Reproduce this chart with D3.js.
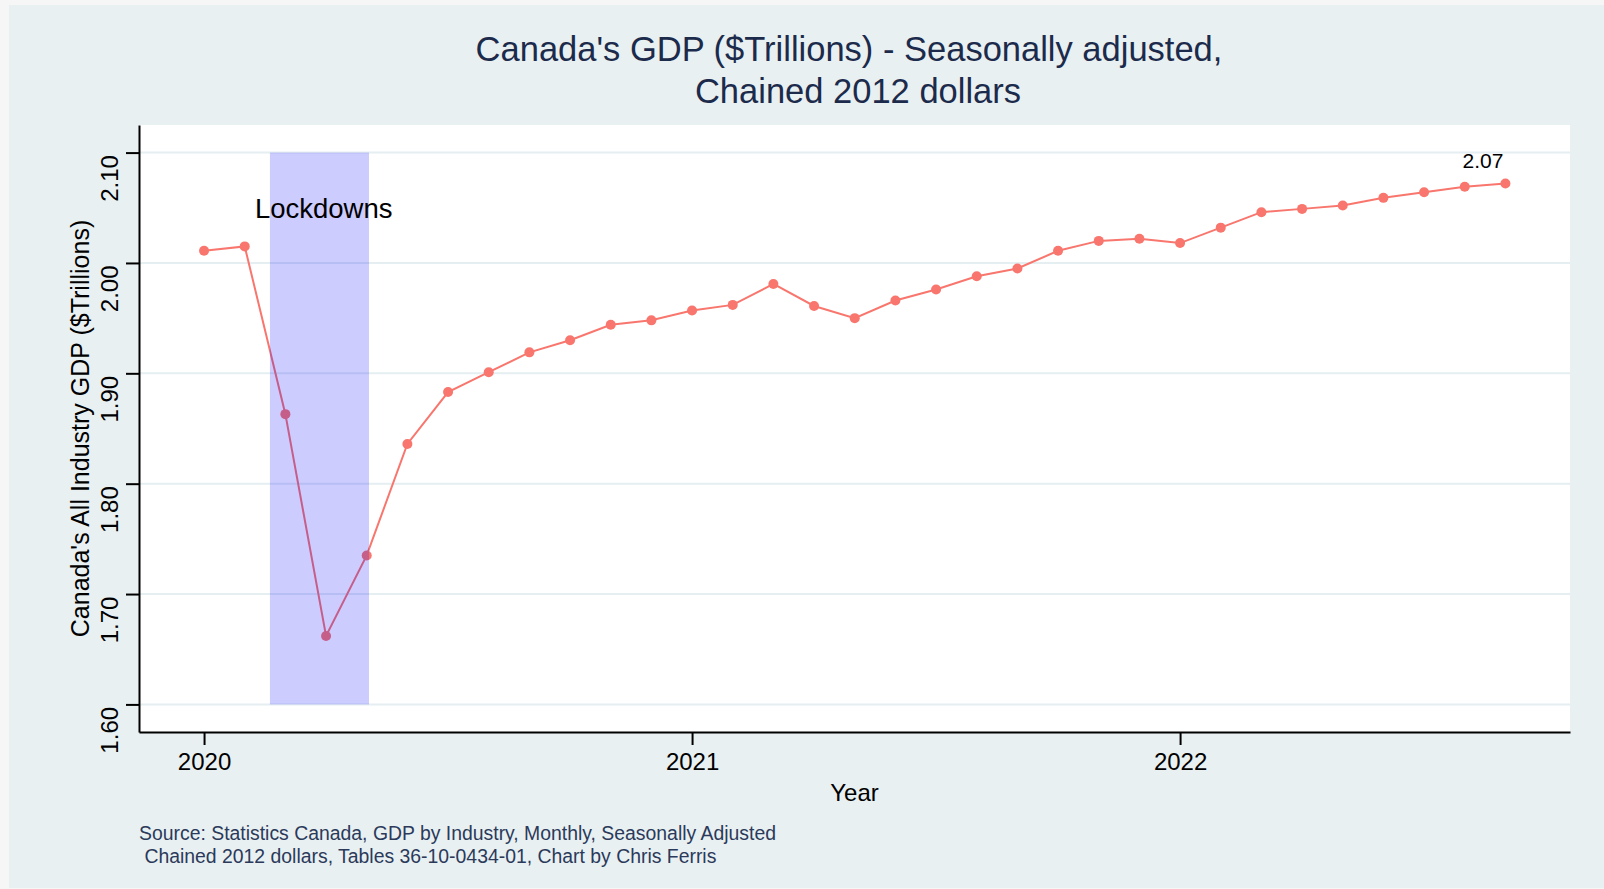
<!DOCTYPE html>
<html>
<head>
<meta charset="utf-8">
<script src="https://cdn.jsdelivr.net/npm/d3@7/dist/d3.min.js"></script>
<style>
  body { margin: 0; background: #f6f6f6; }
  svg { display: block; font-family: "Liberation Sans", Arial, sans-serif; }
</style>
</head>
<body>
<div id="chart"></div>
<script>
// monthly GDP, chained 2012 dollars ($ trillions)
var months = ["2020-01", "2020-02", "2020-03", "2020-04", "2020-05", "2020-06",
              "2020-07", "2020-08", "2020-09", "2020-10", "2020-11", "2020-12",
              "2021-01", "2021-02", "2021-03", "2021-04", "2021-05", "2021-06",
              "2021-07", "2021-08", "2021-09", "2021-10", "2021-11", "2021-12",
              "2022-01", "2022-02", "2022-03", "2022-04", "2022-05", "2022-06",
              "2022-07", "2022-08", "2022-09"];
var gdp = [2.011, 2.015, 1.863, 1.662, 1.735, 1.836,
           1.883, 1.901, 1.919, 1.930, 1.944, 1.948,
           1.957, 1.962, 1.981, 1.961, 1.950, 1.966,
           1.976, 1.988, 1.995, 2.011, 2.020, 2.022,
           2.018, 2.032, 2.046, 2.049, 2.052, 2.059,
           2.064, 2.069, 2.072];
var yearTicks = [2020, 2021, 2022];
var gdpTicks = [1.60, 1.70, 1.80, 1.90, 2.00, 2.10];
// shaded lockdown period (decimal year) and its vertical extent
var lockdown = [2020.135, 2020.338];
var lockdownBand = [1.60, 2.10];

var width = 1604, height = 889;
var plotLeft = 139, plotRight = 1570, plotTop = 125, plotBottom = 732;

// month string -> decimal year
function toYear(s) {
    var p = s.split("-");
    return +p[0] + (+p[1] - 1) / 12;
}
var data = months.map(function(m, i) { return { t: toYear(m), v: gdp[i] }; });

var svg = d3.select("#chart").append("svg")
    .attr("width", width)
    .attr("height", height);

// outer background
svg.append("rect").attr("x", 9).attr("y", 5).attr("width", width - 9).attr("height", 883)
    .attr("fill", "#e9f0f2");

// plot region
svg.append("rect").attr("x", plotLeft).attr("y", plotTop)
    .attr("width", plotRight - plotLeft).attr("height", plotBottom - plotTop)
    .attr("fill", "#ffffff");

var x = d3.scaleLinear().domain([2019.8667, 2022.799]).range([plotLeft, plotRight]);
var y = d3.scaleLinear().domain([1.575, 2.125]).range([plotBottom, plotTop]);

// gridlines
svg.append("g").selectAll("line")
    .data(gdpTicks)
    .enter().append("line")
    .attr("x1", plotLeft).attr("x2", plotRight)
    .attr("y1", function(d) { return y(d); })
    .attr("y2", function(d) { return y(d); })
    .attr("stroke", "#e5eef1")
    .attr("stroke-width", 2);

// line + markers
var line = d3.line()
    .x(function(d) { return x(d.t); })
    .y(function(d) { return y(d.v); });

svg.append("path")
    .datum(data)
    .attr("d", line)
    .attr("fill", "none")
    .attr("stroke", "#f8766d")
    .attr("stroke-width", 2);

svg.append("g").selectAll("circle")
    .data(data)
    .enter().append("circle")
    .attr("cx", function(d) { return x(d.t); })
    .attr("cy", function(d) { return y(d.v); })
    .attr("r", 5)
    .attr("fill", "#f8766d");

// lockdown shading (drawn over the line, translucent)
svg.append("rect")
    .attr("x", x(lockdown[0]))
    .attr("y", y(lockdownBand[1]))
    .attr("width", x(lockdown[1]) - x(lockdown[0]))
    .attr("height", y(lockdownBand[0]) - y(lockdownBand[1]))
    .attr("fill", "#0000ff")
    .attr("fill-opacity", 0.2);

svg.append("text")
    .attr("x", x(lockdown[0]) - 15)
    .attr("y", 218)
    .attr("font-size", 27.5)
    .attr("fill", "#000")
    .text("Lockdowns");

// last value label
var last = data[data.length - 1];
svg.append("text")
    .attr("x", x(last.t) - 2)
    .attr("y", y(last.v) - 15)
    .attr("text-anchor", "end")
    .attr("font-size", 21)
    .attr("fill", "#000")
    .text(d3.format(".2f")(last.v));

// y axis
var yAxis = svg.append("g")
    .attr("transform", "translate(" + plotLeft + ",0)")
    .call(d3.axisLeft(y).tickValues(gdpTicks).tickFormat(d3.format(".2f"))
        .tickSize(13).tickSizeOuter(0));
yAxis.selectAll("text")
    .attr("transform", "rotate(-90)")
    .attr("x", -2)
    .attr("y", -21)
    .attr("dy", 0)
    .attr("text-anchor", "end")
    .attr("font-size", 24)
    .attr("font-family", "Liberation Sans, Arial, sans-serif")
    .attr("fill", "#000");

// x axis
var xAxis = svg.append("g")
    .attr("transform", "translate(0," + plotBottom + ")")
    .call(d3.axisBottom(x).tickValues(yearTicks).tickFormat(d3.format("d"))
        .tickSize(13).tickSizeOuter(0));
xAxis.selectAll("text")
    .attr("y", 21)
    .attr("font-size", 24)
    .attr("font-family", "Liberation Sans, Arial, sans-serif")
    .attr("fill", "#000");

svg.selectAll(".domain").attr("stroke", "#000").attr("stroke-width", 2);
svg.selectAll(".tick line").attr("stroke", "#000").attr("stroke-width", 2);

// titles
var titleColor = "#1c2b4b";
svg.append("text")
    .attr("x", 849).attr("y", 61)
    .attr("text-anchor", "middle")
    .attr("font-size", 34.5)
    .attr("fill", titleColor)
    .text("Canada's GDP ($Trillions) - Seasonally adjusted,");
svg.append("text")
    .attr("x", 858).attr("y", 103)
    .attr("text-anchor", "middle")
    .attr("font-size", 34.5)
    .attr("fill", titleColor)
    .text("Chained 2012 dollars");

// axis titles
svg.append("text")
    .attr("transform", "translate(89," + ((plotTop + plotBottom) / 2) + ") rotate(-90)")
    .attr("text-anchor", "middle")
    .attr("font-size", 25)
    .attr("fill", "#000")
    .text("Canada's All Industry GDP ($Trillions)");

svg.append("text")
    .attr("x", (plotLeft + plotRight) / 2).attr("y", 801)
    .attr("text-anchor", "middle")
    .attr("font-size", 24)
    .attr("fill", "#000")
    .text("Year");

// source note
svg.append("text")
    .attr("x", plotLeft).attr("y", 840)
    .attr("font-size", 19.4)
    .attr("fill", "#2b3a5a")
    .text("Source: Statistics Canada, GDP by Industry, Monthly, Seasonally Adjusted");
svg.append("text")
    .attr("x", plotLeft).attr("y", 863)
    .attr("font-size", 19.4)
    .attr("fill", "#2b3a5a")
    .style("white-space", "pre")
    .text(" Chained 2012 dollars, Tables 36-10-0434-01, Chart by Chris Ferris");
</script>
</body>
</html>
